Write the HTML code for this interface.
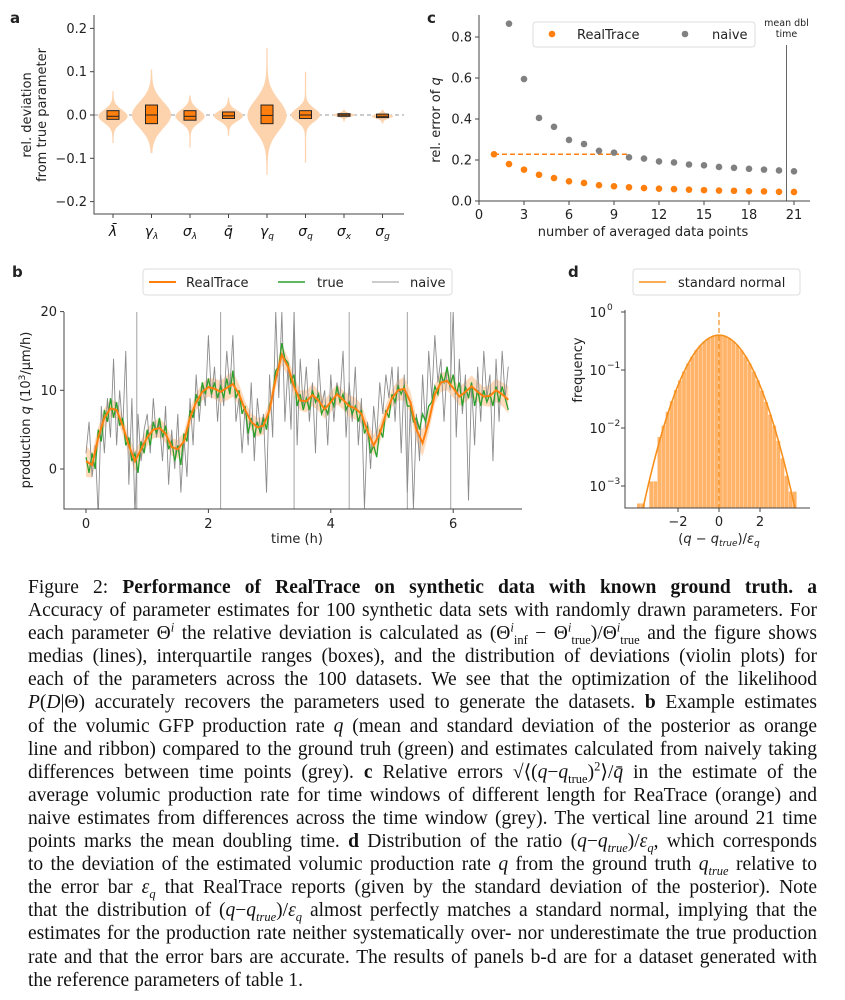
<!DOCTYPE html>
<html><head><meta charset="utf-8">
<style>
html,body{margin:0;padding:0;background:#fff;}
body{width:845px;height:1000px;position:relative;overflow:hidden;}
svg text{font-family:"DejaVu Sans","Liberation Sans",sans-serif;}
#cap{position:absolute;left:28px;top:576px;width:789px;font-family:"Liberation Serif",serif;font-size:19.5px;color:#111;}
#cap .l{height:23.1px;line-height:23.1px;white-space:nowrap;}
#cap sub,#cap sup{font-size:12.5px;line-height:0;}
#cap i{font-style:italic;}
</style></head><body>
<svg id="fig" width="845" height="560" style="position:absolute;left:0;top:0" xmlns="http://www.w3.org/2000/svg"></svg>
<div id="cap">
<div class="l j">Figure 2: <b>Performance of RealTrace on synthetic data with known ground truth. a</b></div>
<div class="l j">Accuracy of parameter estimates for 100 synthetic data sets with randomly drawn parameters. For</div>
<div class="l j">each parameter Θ<sup><i>i</i></sup> the relative deviation is calculated as (Θ<sup><i>i</i></sup><sub>inf</sub> − Θ<sup><i>i</i></sup><sub>true</sub>)/Θ<sup><i>i</i></sup><sub>true</sub> and the figure shows</div>
<div class="l j">medias (lines), interquartile ranges (boxes), and the distribution of deviations (violin plots) for</div>
<div class="l j">each of the parameters across the 100 datasets. We see that the optimization of the likelihood</div>
<div class="l j"><i>P</i>(<i>D</i>|Θ) accurately recovers the parameters used to generate the datasets. <b>b</b> Example estimates</div>
<div class="l j">of the volumic GFP production rate <i>q</i> (mean and standard deviation of the posterior as orange</div>
<div class="l j">line and ribbon) compared to the ground truh (green) and estimates calculated from naively taking</div>
<div class="l j">differences between time points (grey). <b>c</b> Relative errors √⟨(<i>q</i>−<i>q</i><sub>true</sub>)<sup>2</sup>⟩/<i>q̄</i> in the estimate of the</div>
<div class="l j">average volumic production rate for time windows of different length for ReaTrace (orange) and</div>
<div class="l j">naive estimates from differences across the time window (grey). The vertical line around 21 time</div>
<div class="l j">points marks the mean doubling time. <b>d</b> Distribution of the ratio (<i>q</i>−<i>q<sub>true</sub></i>)/<i>ε<sub>q</sub></i>, which corresponds</div>
<div class="l j">to the deviation of the estimated volumic production rate <i>q</i> from the ground truth <i>q<sub>true</sub></i> relative to</div>
<div class="l j">the error bar <i>ε<sub>q</sub></i> that RealTrace reports (given by the standard deviation of the posterior). Note</div>
<div class="l j">that the distribution of (<i>q</i>−<i>q<sub>true</sub></i>)/<i>ε<sub>q</sub></i> almost perfectly matches a standard normal, implying that the</div>
<div class="l j">estimates for the production rate neither systematically over- nor underestimate the true production</div>
<div class="l j">rate and that the error bars are accurate. The results of panels b-d are for a dataset generated with</div>
<div class="l">the reference parameters of table 1.</div>
</div>
<script>
// ---- Panel a data ----
const aCats=["λ̄","γλ","σλ","q̄","γq","σq","σx","σg"];
const aMin=[-0.065,-0.088,-0.075,-0.048,-0.138,-0.11,-0.015,-0.02];
const aMax=[0.055,0.105,0.045,0.04,0.155,0.1,0.012,0.012];
const aSpread=[0.015,0.03,0.015,0.012,0.035,0.015,0.004,0.005];
const aQ1=[-0.01,-0.02,-0.012,-0.008,-0.02,-0.008,-0.003,-0.006];
const aMed=[-0.003,0,-0.003,-0.002,-0.001,0,0,-0.003];
const aQ3=[0.01,0.023,0.01,0.007,0.023,0.01,0.003,0.002];
const aTicks=[-0.2,-0.1,0.0,0.1,0.2];
// ---- Panel c data ----
const cN=[1,2,3,4,5,6,7,8,9,10,11,12,13,14,15,16,17,18,19,20,21];
const cReal=[0.228,0.18,0.153,0.128,0.112,0.096,0.088,0.077,0.072,0.067,0.063,0.06,0.058,0.055,0.053,0.051,0.05,0.048,0.047,0.045,0.044];
const cNaiveN=[2,3,4,5,6,7,8,9,10,11,12,13,14,15,16,17,18,19,20,21];
const cNaive=[0.865,0.595,0.405,0.362,0.298,0.278,0.245,0.236,0.213,0.207,0.193,0.188,0.178,0.174,0.166,0.162,0.157,0.153,0.149,0.145];
const cXTicks=[0,3,6,9,12,15,18,21];
const cYTicks=[0.0,0.2,0.4,0.6,0.8];
const cDbl=20.5;
// ---- Panel b data ----
const bMean=[1,0.5,4,6.5,7.7,7.5,5.5,3,1,2.5,4,5,5.2,4.5,2.8,2.5,3.5,6.5,8.5,9.8,10.4,10.2,9.8,10.3,10.8,9.5,7.5,6,5.3,5.5,7.5,11.5,14.5,13,10.5,8.7,8.6,9.4,8.7,7.6,8.5,9.5,8.8,8,7.7,7,4.8,3,4.5,7,9,10,10.2,8.5,5,3.3,6,9.5,11,11.2,10.3,9.2,9.8,10.5,9.8,9.2,9.3,10,9.5,8.8];
const bStd=[2,1.6,1.3,1.2,1.1,1.1,1.1,1.2,1.3,1.2,1.1,1.1,1.2,1.2,1.1,1.2,1.2,1.1,1.1,1.1,1.2,1.3,1.4,1.6,1.6,1.3,1.1,1.1,1.2,1.1,1.1,1.2,1.3,1.2,1.2,1.3,1.4,1.4,1.3,1.2,1.3,1.3,1.2,1.4,1.4,1.2,1.2,1.3,1.2,1.1,1.1,1.3,1.5,1.4,1.5,1.7,1.3,1.2,1.2,1.2,1.2,1.2,1.3,1.4,1.3,1.2,1.4,1.5,1.5,1.7];
const bTrue=[1.5,-0.5,2,0,5,3.5,7.5,6,9,6.5,8.5,5.5,6.5,3,4,1,2,-0.5,3.5,2,5,3,6,4.5,6.5,4,5.5,2.5,3.5,1,3,0.5,4.5,3.5,7.5,6.5,9.5,8,11,9.5,11.5,9.5,11,9,10.5,9,11.5,9.5,12.5,9,10,7,8,4.5,6.5,4,6,4.5,6.5,5,8,9.5,12.5,13,16,14,13.5,11,12,8,9.5,7.5,9,7.5,10,8.5,9.5,7,8,7,9,8,10.5,8.5,9.5,7.5,8.5,7,8,6,7.5,4.5,5.5,2,3,1.5,5,4,7.5,6.5,9.5,8.5,10.5,9.5,10.5,8,8,6,6.5,5,7,6,8,8.5,10.5,9.5,12,11,13,10.5,12,9.5,11,8,10.5,9,11,8,10,8,10,8.5,9.5,8,10.5,8.5,10.5,9,7.5];
const bNaive=[2,6,-1,3,-6,8,2,9,4,14,3,10,5,15,-2,9,-6,7,1,5,7,2,9,4,6,1,8,-2,5,0,7,-3,4,-1,9,3,12,6,11,8,17,9,13,6,12,8,15,10,17,6,9,2,8,3,11,1,9,5,7,-3,12,4,20,9,20,6,13,5,20,3,14,8,13,6,11,2,14,8,10,3,12,6,11,9,15,4,11,6,13,3,9,-5,6,0,8,4,11,7,12,9,13,6,13,2,12,-3,8,-5,7,1,12,5,15,9,17,11,14,6,13,10,20,4,14,7,12,-4,11,3,13,6,15,9,12,1,14,6,15,9,13];
const bDiv=[0.83,2.2,3.4,4.3,5.25,5.96];
const bXTicks=[0,2,4,6];
const bYTicks=[0,10,20];
// ---- Panel d data ----
const dCenters=[-3.9,-3.7,-3.5,-3.3,-3.1,-2.9,-2.7,-2.5,-2.3,-2.1,-1.9,-1.7,-1.5,-1.3,-1.1,-0.9,-0.7,-0.5,-0.3,-0.1,0.1,0.3,0.5,0.7,0.9,1.1,1.3,1.5,1.7,1.9,2.1,2.3,2.5,2.7,2.9,3.1,3.3,3.5,3.7];
const dFreq=[0.0005,0.0005,0,0.0012,0.0012,0.007,0.011,0.019,0.029,0.045,0.066,0.094,0.13,0.17,0.22,0.265,0.31,0.35,0.38,0.395,0.397,0.381,0.352,0.312,0.266,0.218,0.171,0.13,0.094,0.066,0.044,0.028,0.017,0.011,0.006,0.003,0.0015,0.0008,0.0008];
const dXTicks=[-2,0,2];
const dYTicks=[0,-1,-2,-3];

const NS="http://www.w3.org/2000/svg";
const svg=document.getElementById('fig');
function mk(tag,attrs,parent){const e=document.createElementNS(NS,tag);for(const k in attrs)e.setAttribute(k,attrs[k]);(parent||svg).appendChild(e);return e;}
function txt(s,x,y,attrs,parent){const e=mk('text',Object.assign({x:x,y:y,'font-size':13,fill:'#222'},attrs),parent);e.textContent=s;return e;}
const OR='#ff7f0e', GR='#808080';

// ================= PANEL A =================
const ax=v=>113+(v)*38.5; const ay=v=>115-v*433;
let t;
t=txt('a',10,23,{'font-weight':'bold','font-size':15});


let zl=mk('line',{x1:94,x2:404,y1:ay(0),y2:ay(0),stroke:'#999','stroke-dasharray':'4,3','stroke-width':1});


aCats.forEach((c,i)=>{
  const cx=ax(i), hw=(i===1||i===4)?19:(i>=6?10:14);
  let pts=[];const N=60;
  for(let k=0;k<=N;k++){const v=aMin[i]+(aMax[i]-aMin[i])*k/N;const w=hw*Math.exp(-0.5*Math.pow((v-aMed[i])/aSpread[i],2))+0.6;pts.push([cx+w,ay(v)]);}
  for(let k=N;k>=0;k--){const v=aMin[i]+(aMax[i]-aMin[i])*k/N;const w=hw*Math.exp(-0.5*Math.pow((v-aMed[i])/aSpread[i],2))+0.6;pts.push([cx-w,ay(v)]);}
  const vp=mk('polygon',{points:pts.map(p=>p.join(',')).join(' '),fill:'#fdd3ae',stroke:'none'});
  
  
  const bx=mk('rect',{x:cx-6,y:ay(aQ3[i]),width:12,height:Math.max(1.5,ay(aQ1[i])-ay(aQ3[i])),fill:OR,stroke:'#222','stroke-width':1});
  
  
  const md=mk('line',{x1:cx-6,x2:cx+6,y1:ay(aMed[i]),y2:ay(aMed[i]),stroke:'#222','stroke-width':1});
  
  
  const lab=txt('',cx,236,{'font-size':14,'text-anchor':'middle','font-style':'italic',fill:'#111'});
  
  
  const base=c[0], sub=c.length>1&&c[1]!=='\u0304'?c.slice(1):'';
  const s1=mk('tspan',{},lab);s1.textContent=sub?base:c;
  if(sub){const s2=mk('tspan',{'font-size':9,dy:3},lab);s2.textContent=sub;}
});
let axA=mk('path',{d:'M94,15 V214 H404',fill:'none',stroke:'#444','stroke-width':1});


aTicks.forEach(v=>{
  mk('line',{x1:90,x2:94,y1:ay(v),y2:ay(v),stroke:'#444'});
  const tl=txt((v<0?'−':'')+Math.abs(v).toFixed(1),87,ay(v)+4.5,{'text-anchor':'end'});
  
  
});
aCats.forEach((c,i)=>mk('line',{x1:ax(i),x2:ax(i),y1:214,y2:218,stroke:'#444'}));
let ya=txt('rel. deviation',31,115,{'text-anchor':'middle',transform:'rotate(-90 31 115)'});


let ya2=txt('from true parameter',46,115,{'text-anchor':'middle',transform:'rotate(-90 46 115)'});



// ================= PANEL C =================
const cx_=n=>479+n*15; const cy=v=>201-v*205;
t=txt('c',427,23,{'font-weight':'bold','font-size':15});


let dl=mk('line',{x1:cx_(cDbl),x2:cx_(cDbl),y1:45,y2:201,stroke:'#666','stroke-width':1});


t=txt('mean dbl',cx_(cDbl),26,{'text-anchor':'middle','font-size':9.5});


t=txt('time',cx_(cDbl),37,{'text-anchor':'middle','font-size':9.5});


let dsh=mk('line',{x1:cx_(cN[0]),x2:cx_(10),y1:cy(cReal[0]),y2:cy(cReal[0]),stroke:OR,'stroke-dasharray':'5,3','stroke-width':1.5});


cNaiveN.forEach((n,i)=>{const p=mk('circle',{cx:cx_(n),cy:cy(cNaive[i]),r:3.3,fill:GR});
  
  });
cN.forEach((n,i)=>{const p=mk('circle',{cx:cx_(n),cy:cy(cReal[i]),r:3.3,fill:OR});
  
  });
let axC=mk('path',{d:'M479,15 V201 H810',fill:'none',stroke:'#444','stroke-width':1});


cXTicks.forEach(v=>{mk('line',{x1:cx_(v),x2:cx_(v),y1:201,y2:205,stroke:'#444'});
  const tl=txt(String(v),cx_(v),219,{'text-anchor':'middle'});
  
  });
cYTicks.forEach(v=>{mk('line',{x1:475,x2:479,y1:cy(v),y2:cy(v),stroke:'#444'});
  const tl=txt(v.toFixed(1),472,cy(v)+4.5,{'text-anchor':'end'});
  
  });
t=txt('number of averaged data points',643,236,{'text-anchor':'middle'});


t=txt('rel. error of ',440,120,{'text-anchor':'middle',transform:'rotate(-90 440 120)'});


mk('tspan',{'font-style':'italic'},t).textContent='q';
let lgC=mk('rect',{x:533,y:22,width:222,height:25,rx:3,fill:'#fff',stroke:'#ddd'});


mk('circle',{cx:552,cy:34,r:3.3,fill:OR});
t=txt('RealTrace',577,39,{});


mk('circle',{cx:685,cy:34,r:3.3,fill:GR});
t=txt('naive',712,39,{});



// ================= PANEL B =================
const bx=h=>86+h*61.2; const by=v=>469-v*7.87;
t=txt('b',12,277,{'font-weight':'bold','font-size':15});


const clip=mk('clipPath',{id:'bclip'});mk('rect',{x:64,y:312,width:470,height:197},clip);
const gb=mk('g',{'clip-path':'url(#bclip)'});


bDiv.forEach(h=>{const l=mk('line',{x1:bx(h),x2:bx(h),y1:312,y2:509,stroke:'#999','stroke-width':0.9},gb);
  
  });
let up=[],dn=[];
bMean.forEach((v,i)=>{up.push(bx(i*0.1)+','+by(v+bStd[i]));dn.unshift(bx(i*0.1)+','+by(v-bStd[i]));});
let rib=mk('polygon',{points:up.concat(dn).join(' '),fill:'#ffcfa5','fill-opacity':0.75},gb);


let gl=mk('polyline',{points:bNaive.map((v,i)=>bx(i*0.05)+','+by(v)).join(' '),fill:'none',stroke:'#8c8c8c','stroke-width':0.9},gb);


let tl_=mk('polyline',{points:bTrue.map((v,i)=>bx(i*0.05)+','+by(v)).join(' '),fill:'none',stroke:'#2ca02c','stroke-width':1.3},gb);


let ml=mk('polyline',{points:bMean.map((v,i)=>bx(i*0.1)+','+by(v)).join(' '),fill:'none',stroke:OR,'stroke-width':2},gb);


let axB=mk('path',{d:'M64,312 V509 H522',fill:'none',stroke:'#444','stroke-width':1});


bXTicks.forEach(v=>{mk('line',{x1:bx(v),x2:bx(v),y1:509,y2:513,stroke:'#444'});
  const l=txt(String(v),bx(v),528,{'text-anchor':'middle'});
  
  });
bYTicks.forEach(v=>{mk('line',{x1:60,x2:64,y1:by(v),y2:by(v),stroke:'#444'});
  const l=txt(String(v),57,by(v)+4.5,{'text-anchor':'end'});
  
  });
t=txt('time (h)',297,543,{'text-anchor':'middle'});


t=txt('production ',30,410,{'text-anchor':'middle',transform:'rotate(-90 30 410)'});


mk('tspan',{'font-style':'italic'},t).textContent='q';
mk('tspan',{},t).textContent=' (10';
mk('tspan',{'font-size':9,dy:-5},t).textContent='3';
mk('tspan',{dy:5},t).textContent='/µm/h)';
let lgB=mk('rect',{x:143,y:269,width:309,height:26,rx:3,fill:'#fff',stroke:'#ddd'});


mk('line',{x1:149,x2:176,y1:282,y2:282,stroke:OR,'stroke-width':2});
t=txt('RealTrace',186,287,{});


mk('line',{x1:278,x2:305,y1:282,y2:282,stroke:'#2ca02c','stroke-width':1.5});
t=txt('true',317,287,{});


mk('line',{x1:372,x2:399,y1:282,y2:282,stroke:'#999','stroke-width':1});
t=txt('naive',410,287,{});



// ================= PANEL D =================
const dx=v=>719+v*20.5;
const dyy=f=>312+(-Math.log10(f))*58;
t=txt('d',568,277,{'font-weight':'bold','font-size':15});


dCenters.forEach((c,i)=>{if(dFreq[i]<=0)return;
  const top=Math.min(508,dyy(dFreq[i]));
  const r=mk('rect',{x:dx(c-0.1),y:top,width:20.5*0.2-0.3,height:508-top,fill:'#ffb46a'});
  
  });
let np=[];for(let k=0;k<=160;k++){const x=-4+8*k/160;const f=Math.exp(-x*x/2)/Math.sqrt(2*Math.PI);const y=dyy(f);if(y<=508)np.push(dx(x)+','+y);}
let nc=mk('polyline',{points:np.join(' '),fill:'none',stroke:'#f5901e','stroke-width':1.6});


let zv=mk('line',{x1:dx(0),x2:dx(0),y1:312,y2:508,stroke:'#f5901e','stroke-dasharray':'5,3','stroke-width':1.2});


let axD=mk('path',{d:'M625,310 V508 H810',fill:'none',stroke:'#444','stroke-width':1});


dXTicks.forEach(v=>{mk('line',{x1:dx(v),x2:dx(v),y1:508,y2:512,stroke:'#444'});
  const l=txt((v<0?'−':'')+Math.abs(v),dx(v),526,{'text-anchor':'middle'});
  
  });
dYTicks.forEach(e=>{const y=312-e*58;mk('line',{x1:621,x2:625,y1:y,y2:y,stroke:'#444'});
  const l=txt('10',606,y+5,{'text-anchor':'end'});
  
  
  const s=txt(e===0?'0':'−'+Math.abs(e),607,y-2,{'font-size':9});
  
  });
t=txt('frequency',582,370,{'text-anchor':'middle',transform:'rotate(-90 582 370)'});


t=txt('',719,543,{'text-anchor':'middle'});


mk('tspan',{},t).textContent='(';
mk('tspan',{'font-style':'italic'},t).textContent='q';
mk('tspan',{},t).textContent=' − ';
mk('tspan',{'font-style':'italic'},t).textContent='q';
mk('tspan',{'font-style':'italic','font-size':9,dy:3},t).textContent='true';
mk('tspan',{dy:-3},t).textContent=')/';
mk('tspan',{'font-style':'italic'},t).textContent='ε';
mk('tspan',{'font-style':'italic','font-size':9,dy:3},t).textContent='q';
let lgD=mk('rect',{x:633,y:269,width:167,height:26,rx:3,fill:'#fff',stroke:'#ddd'});


mk('line',{x1:639,x2:666,y1:282,y2:282,stroke:'#f5901e','stroke-width':1.6});
t=txt('standard normal',678,287,{});



// ---- caption justification via word-spacing / letter-spacing ----
document.querySelectorAll('#cap .j').forEach(line=>{
  const span=document.createElement('span');
  while(line.firstChild)span.appendChild(line.firstChild);
  line.appendChild(span);
  let w=span.getBoundingClientRect().width;
  const spaces=(span.textContent.match(/ /g)||[]).length;
  const chars=span.textContent.length;
  let ws=(789-w)/Math.max(1,spaces);
  if(ws<-1.5){ // too long: condense letters instead
    const ls=(789-w+1.5*spaces)/chars;
    line.style.letterSpacing=ls+'px';
    ws=-1.5;
  }
  line.style.wordSpacing=ws+'px';
});
</script>
</body></html>
